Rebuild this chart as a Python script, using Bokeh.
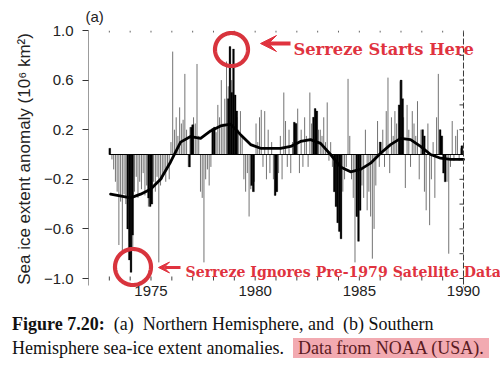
import numpy as np
from bokeh.plotting import figure
from bokeh.layouts import column
from bokeh.models import (Range1d, FixedTicker, Label, Arrow, VeeHead,
                          PolyAnnotation, Div, Title)
from bokeh.embed import file_html
from bokeh.resources import INLINE

# ---------------- data ----------------
years = list(range(1973, 1990))
anom_1973 = [0.05, -0.04, -0.12, -0.22, -0.30, -0.73, -0.38, -0.79, -0.32, -0.40, -0.55, -0.70]
anom_1974 = [-0.95, -0.75, -0.30, -0.18, -0.35, -0.22, -0.28, -0.15, -0.33, -0.25, -0.42, -0.40]
anom_1975 = [-0.40, -0.22, -0.30, -0.18, -0.87, -0.25, -0.20, -0.15, -0.22, -0.12, -0.20, 0.10]
anom_1976 = [0.83, 0.20, 0.30, 0.15, 0.38, 0.25, 0.28, 0.65, 0.20, -0.10, 0.22, 0.24]
anom_1977 = [0.30, 0.25, 0.73, 0.15, -0.30, -0.35, -0.87, -0.20, -0.12, -0.25, -0.10, 0.21]
anom_1978 = [0.22, 0.18, 0.40, 0.30, 0.60, 0.25, 0.45, 0.75, 0.55, 0.87, 0.60, 0.85]
anom_1979 = [0.48, 0.30, 0.20, 0.35, 0.15, -0.20, -0.30, -0.15, -0.50, -0.28, -0.30, -0.22]
anom_1980 = [0.25, 0.10, 0.30, 0.36, -0.10, 0.35, -0.20, 0.20, -0.15, 0.10, -0.20, -0.33]
anom_1981 = [-0.30, -0.15, 0.15, -0.20, 0.50, 0.27, -0.10, 0.20, -0.15, 0.10, 0.26, 0.25]
anom_1982 = [0.37, -0.15, 0.20, -0.10, 0.30, 0.15, -0.10, 0.50, 0.25, 0.30, 0.37, 0.35]
anom_1983 = [0.20, 0.20, 0.15, 0.30, 0.10, 0.42, -0.05, 0.10, -0.10, -0.30, -0.42, -0.55]
anom_1984 = [-0.62, -0.68, -0.30, -0.20, -0.10, 0.61, 0.15, -0.20, -0.35, -0.87, -0.50, -0.70]
anom_1985 = [-0.45, -0.25, -0.35, 0.20, -0.45, -0.30, -0.50, -0.84, -0.60, -0.25, 0.27, -0.10]
anom_1986 = [0.10, 0.20, -0.10, 0.35, 0.62, -0.15, 0.30, 0.15, 0.35, 0.25, 0.40, 0.59]
anom_1987 = [0.60, 0.30, -0.27, 0.40, 0.20, -0.10, 0.35, 0.25, 0.15, 0.43, -0.20, 0.20]
anom_1988 = [0.20, -0.30, -0.45, 0.25, -0.57, -0.20, 0.10, -0.35, 0.30, 0.65, 0.20, 0.15]
anom_1989 = [-0.15, -0.20, -0.22, -0.80, -0.10, 0.27, -0.05, 0.15, 0.20, -0.05, 0.05, 0.07]
monthly_series = [anom_1973, anom_1974, anom_1975, anom_1976, anom_1977, anom_1978,
                  anom_1979, anom_1980, anom_1981, anom_1982, anom_1983, anom_1984,
                  anom_1985, anom_1986, anom_1987, anom_1988, anom_1989]

# heavy (black) clusters of weekly bars
black_years = [1973.02, 1973.88, 1973.96, 1974.04, 1974.12, 1974.88, 1974.96, 1975.04,
               1976.85, 1976.93, 1977.01, 1977.96, 1978.04,
               1978.71, 1978.79, 1978.88, 1978.96, 1979.04, 1979.12,
               1979.83, 1979.92, 1980.96, 1981.04, 1981.88, 1981.96,
               1982.80, 1982.88, 1982.96, 1983.80, 1983.88, 1983.96, 1984.04, 1984.12,
               1984.88, 1984.96, 1985.04, 1986.00, 1986.92, 1987.00, 1987.08,
               1988.04, 1988.12, 1988.88, 1988.96, 1989.04, 1989.12, 1989.92]
black_vals = [0.05, -0.60, -0.85, -0.95, -0.65, -0.35, -0.42, -0.40,
              -0.10, 0.22, 0.24, 0.21, 0.22,
              0.45, 0.87, 0.50, 0.85, 0.48, 0.35,
              -0.25, -0.30, -0.33, -0.30, 0.26, 0.25,
              0.30, 0.37, 0.35, -0.30, -0.42, -0.55, -0.62, -0.68,
              -0.50, -0.70, -0.45, 0.10, 0.40, 0.60, 0.45,
              0.20, 0.15, 0.20, 0.15, -0.15, -0.22, 0.07]

# smoothed curve
curve_years = [1973.06, 1974.02, 1974.50, 1974.98, 1975.46, 1975.94, 1976.42, 1976.90,
               1977.38, 1977.86, 1978.34, 1978.82, 1979.30, 1979.78, 1980.26, 1980.74,
               1981.22, 1981.70, 1982.18, 1982.66, 1983.14, 1983.62, 1984.10, 1984.58,
               1985.06, 1985.54, 1986.02, 1986.50, 1986.98, 1987.46, 1987.94, 1988.42,
               1988.90, 1989.38, 1990.00]
curve_vals = [-0.32, -0.35, -0.32, -0.28, -0.20, -0.06, 0.10, 0.145,
              0.13, 0.19, 0.23, 0.245, 0.16, 0.08, 0.05, 0.05,
              0.05, 0.065, 0.105, 0.12, 0.09, 0.00, -0.10, -0.14,
              -0.12, -0.07, 0.01, 0.08, 0.13, 0.12, 0.065, 0.00,
              -0.03, -0.04, -0.04]

y_ticks = [-1.0, -0.6, -0.2, 0.2, 0.6, 1.0]
y_tick_labels = ["\u22121.0", "\u22120.6", "\u22120.2", "0.2", "0.6", "1.0"]
x_label_ticks = [1975, 1980, 1985, 1990]
x_minor_ticks = list(range(1973, 1991))
right_ticks = [-1.0, -0.8, -0.6, -0.4, -0.2, 0.2, 0.4, 0.6, 0.8]
x_end_year = 1990
y_top, y_bottom_tick = 1.0, -1.0

# ---------------- layout helpers (page pixels -> data) ----------------
PX_X0, PX_PER_YR = 88.0, 20.833     # page x of 1972, px per year
PX_Y0, PX_PER_UNIT = 154.0, 124.0   # page y of 0, px per unit

def ax_(px):
    return 1972 + (px - PX_X0) / PX_PER_YR

def ay_(py):
    return (PX_Y0 - py) / PX_PER_UNIT

FIG_W, FIG_H = 500, 305
X0, X1 = ax_(88), ax_(500)
Y0, Y1 = ay_(287), ay_(30)

p = figure(width=FIG_W, height=FIG_H, x_range=Range1d(X0, X1), y_range=Range1d(Y0, Y1),
           output_backend="svg", toolbar_location=None,
           min_border_left=88, min_border_right=0, min_border_top=30, min_border_bottom=18)
p.background_fill_color = "white"
p.border_fill_color = "white"
p.outline_line_color = None
p.xgrid.visible = False
p.ygrid.visible = False

FONT = "Liberation Sans"
p.title = Title(text="(a)", align="left", offset=-3, vertical_align="bottom", standoff=11,
                text_font=FONT, text_font_size="15px", text_font_style="normal",
                text_color="#222222")

# ---------------- data marks ----------------
month_x, month_v = [], []
for yr, vals in zip(years, monthly_series):
    for m, v in enumerate(vals):
        month_x.append(yr + (m + 0.5) / 12.0)
        month_v.append(v)
p.segment(x0=month_x, y0=[0] * len(month_x), x1=month_x, y1=month_v,
          line_color="#737373", line_width=1)

p.vbar(x=black_years, top=black_vals, bottom=0, width=0.085,
       fill_color="black", line_color="black", line_width=0.3)

p.line(x=[years[0], years[-1] + 1], y=[0, 0], line_color="black", line_width=1.2)

p.line(x=curve_years, y=curve_vals, line_color="black", line_width=2.8,
       line_join="round", line_cap="round")

# ---------------- axes ----------------
yax = p.yaxis[0]
yax.ticker = FixedTicker(ticks=y_ticks)
yax.major_label_overrides = {t: l for t, l in zip(y_ticks, y_tick_labels)}
yax.major_tick_out = 6
yax.major_tick_in = 0
yax.minor_tick_line_color = None
yax.axis_line_color = None
yax.major_tick_line_color = "#333333"
yax.major_label_text_font = FONT
yax.major_label_text_font_size = "15px"
yax.major_label_text_color = "#222222"
yax.major_label_standoff = 9
yax.axis_label = "Sea ice extent anomaly (10\u2076 km\u00b2)"
yax.axis_label_text_font = FONT
yax.axis_label_text_font_size = "17px"
yax.axis_label_text_font_style = "normal"
yax.axis_label_text_color = "#222222"
yax.axis_label_standoff = 7

xax = p.xaxis[0]
xax.ticker = FixedTicker(ticks=x_label_ticks)
xax.axis_line_color = None
xax.major_tick_line_color = None
xax.minor_tick_line_color = None
xax.major_tick_in = 0
xax.major_tick_out = 0
xax.major_label_text_font = FONT
xax.major_label_text_font_size = "15px"
xax.major_label_text_color = "#222222"
xax.major_label_standoff = -2

# frame lines and small tick marks of the original scan
AX_C = "#3a3a3a"
p.segment(x0=[1972], y0=[y_top], x1=[1972], y1=[ay_(285)], line_color=AX_C, line_width=1)
p.segment(x0=[x_end_year], y0=[y_top], x1=[x_end_year], y1=[Y0],
          line_color=AX_C, line_width=1, line_dash="6 2")
dx4 = 4 / PX_PER_YR
p.segment(x0=[x_end_year] * len(right_ticks), y0=right_ticks,
          x1=[x_end_year - dx4] * len(right_ticks), y1=right_ticks,
          line_color=AX_C, line_width=1)
dy2 = 2 / PX_PER_UNIT
p.segment(x0=x_minor_ticks, y0=[y_top] * len(x_minor_ticks),
          x1=x_minor_ticks, y1=[y_top - dy2] * len(x_minor_ticks),
          line_color="#666666", line_width=1)
p.segment(x0=x_minor_ticks, y0=[y_bottom_tick + dy2] * len(x_minor_ticks),
          x1=x_minor_ticks, y1=[y_bottom_tick - dy2] * len(x_minor_ticks),
          line_color="#444444", line_width=1)

# ---------------- annotations ----------------
RED = "#e0333f"
RING = "#d8343d"

def ring(cx, cy, r):
    th = np.linspace(0, 2 * np.pi, 90)
    return PolyAnnotation(xs=[ax_(cx + r * np.cos(t)) for t in th],
                          ys=[ay_(cy + r * np.sin(t)) for t in th],
                          fill_color=None, fill_alpha=0,
                          line_color=RING, line_alpha=1.0, line_width=4.2)

p.add_layout(ring(231, 49, 16.5))
p.add_layout(ring(132.5, 266.5, 18))

p.add_layout(Arrow(x_start=ax_(290), y_start=ay_(43), x_end=ax_(260), y_end=ay_(43),
                   line_color=RED, line_width=4,
                   end=VeeHead(size=16, fill_color=RED, line_color=RED, line_width=1)))
p.add_layout(Arrow(x_start=ax_(180), y_start=ay_(267), x_end=ax_(158), y_end=ay_(267),
                   line_color=RED, line_width=3,
                   end=VeeHead(size=11, fill_color=RED, line_color=RED, line_width=1)))

p.add_layout(Label(x=ax_(293), y=ay_(48.5), text="Serreze Starts Here",
                   text_font="DejaVu Serif", text_font_style="bold",
                   text_font_size="16.3px", text_color=RED, text_baseline="alphabetic"))
p.add_layout(Label(x=ax_(185), y=ay_(271), text="Serreze Ignores Pre-1979 Satellite Data",
                   text_font="DejaVu Serif", text_font_style="bold",
                   text_font_size="14.1px", text_color=RED, text_baseline="alphabetic"))

# ---------------- caption ----------------
caption_html = (
    '<div style="font-family:\'Liberation Serif\',serif;font-size:18px;line-height:23.5px;'
    'color:#111111;white-space:nowrap;">'
    '<b>Figure 7.20:</b>&nbsp; (a)&nbsp; Northern Hemisphere, and&nbsp; (b) Southern<br>'
    'Hemisphere sea-ice extent anomalies.&nbsp; '
    '<span style="background:#f2aab1;color:#5a1a22;padding:0 5px;">Data from NOAA (USA).</span>'
    '</div>')
caption = Div(text=caption_html, width=488, height=55, margin=(8, 0, 0, 12))

layout = column(p, caption, spacing=0)
open("out.html", "w").write(file_html(layout, INLINE))
